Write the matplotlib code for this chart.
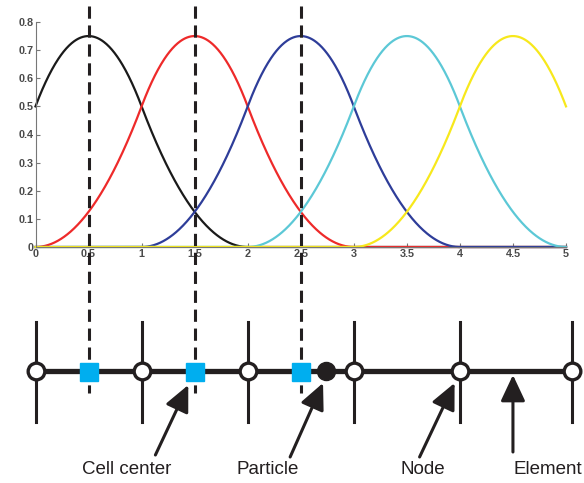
import numpy as np
import matplotlib.pyplot as plt
from matplotlib.patches import FancyArrowPatch

# shape functions (quadratic B-splines) centred on the cell centres
centers = [0.5, 1.5, 2.5, 3.5, 4.5]
colors = ['#1a1a1a', '#ee2a2a', '#2e3d99', '#5cc8d6', '#f7e81c']
xticks = [0, 0.5, 1, 1.5, 2, 2.5, 3, 3.5, 4, 4.5, 5]
xticklabels = ['0', '0.5', '1', '1.5', '2', '2.5', '3', '3.5', '4', '4.5', '5']
yticks = [0, 0.1, 0.2, 0.3, 0.4, 0.5, 0.6, 0.7, 0.8]
yticklabels = ['0', '0.1', '0.2', '0.3', '0.4', '0.5', '0.6', '0.7', '0.8']

# 1D grid below
nodes = [0, 1, 2, 3, 4, 5.06]
cells = [0.5, 1.5, 2.5]
particle = 2.74
dashed_x = [0.5, 1.5, 2.5]

labels = ['Cell center', 'Particle', 'Node', 'Element']
label_x = [0.86, 2.19, 3.65, 4.83]
arrow_tail = [(1.13, 455), (2.40, 457), (3.62, 457), (4.50, 452)]
arrow_tip = [(1.44, 385), (2.71, 383), (3.95, 383), (4.50, 375)]


def bspline2(x, c):
    t = np.abs(x - c)
    return np.where(t < 0.5, 0.75 - t**2, np.where(t < 1.5, 0.5 * (1.5 - t)**2, 0.0))


W, H = 584, 483
fig = plt.figure(figsize=(W / 100, H / 100), dpi=100)
plt.rcParams['font.family'] = ['Liberation Sans', 'DejaVu Sans']

left = 35.5 / W
width = 530.5 / W
ax = fig.add_axes([left, (H - 247) / H, width, (247 - 22) / H])

x = np.linspace(0, 5, 1001)
for c, col in zip(centers, colors):
    ax.plot(x, bspline2(x, c), color=col, lw=1.6, clip_on=False)

ax.set_xlim(0, 5)
ax.set_ylim(0, 0.8)
ax.set_xticks(xticks)
ax.set_xticklabels(xticklabels)
ax.set_yticks(yticks)
ax.set_yticklabels(yticklabels)
for s in ['top', 'right']:
    ax.spines[s].set_visible(False)
for s in ['left', 'bottom']:
    ax.spines[s].set_color('#777777')
    ax.spines[s].set_linewidth(0.8)
ax.tick_params(direction='in', length=3, width=0.8, color='#777777',
               labelsize=7.8, labelcolor='#4a4a4a', pad=1.5)
for lab in ax.get_xticklabels() + ax.get_yticklabels():
    lab.set_fontweight('bold')

# overlay: same x scale, y in pixel rows
ov = fig.add_axes([left, 0, width, 1])
ov.set_xlim(0, 5)
ov.set_ylim(H, 0)
ov.axis('off')
ov.patch.set_alpha(0)

k = '#231f20'
for xd in dashed_x:
    ov.plot([xd, xd], [6, 393], color=k, lw=2.2, ls=(0, (4, 2.2)), zorder=1)

ov.plot([nodes[0], nodes[-1]], [371, 371], color=k, lw=3.8, zorder=2, clip_on=False)
for n in nodes:
    ov.plot([n, n], [322, 422], color=k, lw=2.2, zorder=2, clip_on=False)
ov.plot(nodes, [371] * len(nodes), 'o', ms=12, mfc='white', mec=k, mew=2.4,
        zorder=4, clip_on=False, ls='none')
ov.plot(cells, [372] * len(cells), 's', ms=13, mfc='#00aeef', mec='#00aeef',
        zorder=3, ls='none')
ov.plot([particle], [371], 'o', ms=13, color=k, zorder=3)

for (tx, ty), (hx, hy) in zip(arrow_tail, arrow_tip):
    ov.add_patch(FancyArrowPatch((tx, ty), (hx, hy),
                                 arrowstyle='-|>,head_length=16,head_width=7.5',
                                 mutation_scale=1, lw=2.2, color=k,
                                 shrinkA=0, shrinkB=0, zorder=5))

for lab, lx in zip(labels, label_x):
    ov.text(lx, 469, lab, ha='center', va='center', fontsize=13.5, color='#231f20')

fig.savefig('out.png', dpi=100)
